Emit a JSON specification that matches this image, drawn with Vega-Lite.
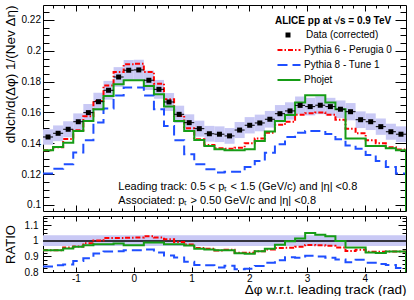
{
  "$schema": "https://vega.github.io/schema/vega-lite/v6.json",
  "padding": {"left": 2, "top": 4, "right": 9, "bottom": 0},
  "config": {
    "font": "Liberation Sans",
    "view": {"stroke": null},
    "axis": {"domainColor": "black", "tickColor": "black", "labelColor": "black", "titleColor": "black", "grid": false, "labelFont": "Liberation Sans", "titleFont": "Liberation Sans", "labelOverlap": false, "labelFlush": false, "labelBound": false, "minExtent": 0, "tickWidth": 1, "domainWidth": 1}
  },
  "data": {"values": [
    {"lo":-1.5708,"hi":-1.3963,"c":-1.4835,"d":0.1441,"b1":0.1391,"b2":0.1491,"p6":0.1355,"p8":0.1205,"pj":0.1355,"r6":0.940,"r8":0.836,"rj":0.940},
    {"lo":-1.3963,"hi":-1.2217,"c":-1.3090,"d":0.1465,"b1":0.1414,"b2":0.1516,"p6":0.1375,"p8":0.1235,"pj":0.1376,"r6":0.940,"r8":0.843,"rj":0.940},
    {"lo":-1.2217,"hi":-1.0472,"c":-1.1345,"d":0.1491,"b1":0.1439,"b2":0.1543,"p6":0.1428,"p8":0.1265,"pj":0.1404,"r6":0.958,"r8":0.848,"rj":0.951},
    {"lo":-1.0472,"hi":-0.8727,"c":-0.9599,"d":0.1540,"b1":0.1486,"b2":0.1594,"p6":0.1485,"p8":0.1340,"pj":0.1480,"r6":0.964,"r8":0.870,"rj":0.962},
    {"lo":-0.8727,"hi":-0.6981,"c":-0.7854,"d":0.1599,"b1":0.1543,"b2":0.1655,"p6":0.1575,"p8":0.1420,"pj":0.1545,"r6":0.985,"r8":0.888,"rj":0.972},
    {"lo":-0.6981,"hi":-0.5236,"c":-0.6109,"d":0.1670,"b1":0.1612,"b2":0.1728,"p6":0.1675,"p8":0.1535,"pj":0.1621,"r6":1.003,"r8":0.919,"rj":0.978},
    {"lo":-0.5236,"hi":-0.3491,"c":-0.4363,"d":0.1744,"b1":0.1683,"b2":0.1805,"p6":0.1775,"p8":0.1625,"pj":0.1707,"r6":1.018,"r8":0.932,"rj":0.978},
    {"lo":-0.3491,"hi":-0.1745,"c":-0.2618,"d":0.1830,"b1":0.1766,"b2":0.1894,"p6":0.1862,"p8":0.1710,"pj":0.1783,"r6":1.018,"r8":0.934,"rj":0.983},
    {"lo":-0.1745,"hi":0.0,"c":-0.0873,"d":0.1874,"b1":0.1808,"b2":0.1940,"p6":0.1912,"p8":0.1762,"pj":0.1809,"r6":1.020,"r8":0.940,"rj":0.972},
    {"lo":0.0,"hi":0.1745,"c":0.0873,"d":0.1876,"b1":0.1810,"b2":0.1942,"p6":0.1916,"p8":0.1762,"pj":0.1809,"r6":1.021,"r8":0.940,"rj":0.972},
    {"lo":0.1745,"hi":0.3491,"c":0.2618,"d":0.1809,"b1":0.1746,"b2":0.1872,"p6":0.1862,"p8":0.1710,"pj":0.1772,"r6":1.030,"r8":0.945,"rj":0.990},
    {"lo":0.3491,"hi":0.5236,"c":0.4363,"d":0.1750,"b1":0.1689,"b2":0.1811,"p6":0.1787,"p8":0.1621,"pj":0.1718,"r6":1.021,"r8":0.926,"rj":0.990},
    {"lo":0.5236,"hi":0.6981,"c":0.6109,"d":0.1668,"b1":0.1610,"b2":0.1726,"p6":0.1685,"p8":0.1512,"pj":0.1638,"r6":1.010,"r8":0.906,"rj":0.978},
    {"lo":0.6981,"hi":0.8727,"c":0.7854,"d":0.1588,"b1":0.1532,"b2":0.1644,"p6":0.1577,"p8":0.1420,"pj":0.1545,"r6":0.993,"r8":0.894,"rj":0.978},
    {"lo":0.8727,"hi":1.0472,"c":0.9599,"d":0.1534,"b1":0.1480,"b2":0.1588,"p6":0.1498,"p8":0.1329,"pj":0.1480,"r6":0.977,"r8":0.866,"rj":0.970},
    {"lo":1.0472,"hi":1.2217,"c":1.1345,"d":0.1495,"b1":0.1443,"b2":0.1547,"p6":0.1426,"p8":0.1264,"pj":0.1422,"r6":0.954,"r8":0.845,"rj":0.950},
    {"lo":1.2217,"hi":1.3963,"c":1.3090,"d":0.1462,"b1":0.1411,"b2":0.1513,"p6":0.1389,"p8":0.1232,"pj":0.1383,"r6":0.950,"r8":0.843,"rj":0.945},
    {"lo":1.3963,"hi":1.5708,"c":1.4835,"d":0.1459,"b1":0.1408,"b2":0.1510,"p6":0.1368,"p8":0.1210,"pj":0.1361,"r6":0.938,"r8":0.829,"rj":0.940},
    {"lo":1.5708,"hi":1.7453,"c":1.6581,"d":0.1448,"b1":0.1397,"b2":0.1499,"p6":0.1365,"p8":0.1216,"pj":0.1355,"r6":0.943,"r8":0.840,"rj":0.940},
    {"lo":1.7453,"hi":1.9199,"c":1.8326,"d":0.1486,"b1":0.1434,"b2":0.1538,"p6":0.1372,"p8":0.1216,"pj":0.1355,"r6":0.923,"r8":0.818,"rj":0.920},
    {"lo":1.9199,"hi":2.0944,"c":2.0071,"d":0.1517,"b1":0.1464,"b2":0.1570,"p6":0.1400,"p8":0.1246,"pj":0.1362,"r6":0.923,"r8":0.821,"rj":0.918},
    {"lo":2.0944,"hi":2.2689,"c":2.1817,"d":0.1532,"b1":0.1478,"b2":0.1586,"p6":0.1431,"p8":0.1285,"pj":0.1415,"r6":0.934,"r8":0.839,"rj":0.933},
    {"lo":2.2689,"hi":2.4435,"c":2.3562,"d":0.1556,"b1":0.1502,"b2":0.1610,"p6":0.1469,"p8":0.1339,"pj":0.1476,"r6":0.944,"r8":0.860,"rj":0.950},
    {"lo":2.4435,"hi":2.6180,"c":2.5307,"d":0.1592,"b1":0.1536,"b2":0.1648,"p6":0.1520,"p8":0.1394,"pj":0.1545,"r6":0.955,"r8":0.876,"rj":0.975},
    {"lo":2.6180,"hi":2.7925,"c":2.7053,"d":0.1610,"b1":0.1554,"b2":0.1666,"p6":0.1540,"p8":0.1441,"pj":0.1584,"r6":0.956,"r8":0.895,"rj":0.998},
    {"lo":2.7925,"hi":2.9671,"c":2.8798,"d":0.1646,"b1":0.1588,"b2":0.1704,"p6":0.1585,"p8":0.1469,"pj":0.1664,"r6":0.963,"r8":0.892,"rj":1.015},
    {"lo":2.9671,"hi":3.1416,"c":3.0543,"d":0.1638,"b1":0.1581,"b2":0.1695,"p6":0.1595,"p8":0.1480,"pj":0.1712,"r6":0.974,"r8":0.904,"rj":1.050},
    {"lo":3.1416,"hi":3.3161,"c":3.2289,"d":0.1647,"b1":0.1589,"b2":0.1705,"p6":0.1600,"p8":0.1480,"pj":0.1712,"r6":0.972,"r8":0.899,"rj":1.040},
    {"lo":3.3161,"hi":3.4907,"c":3.4034,"d":0.1638,"b1":0.1581,"b2":0.1695,"p6":0.1585,"p8":0.1460,"pj":0.1664,"r6":0.968,"r8":0.891,"rj":1.030},
    {"lo":3.4907,"hi":3.6652,"c":3.5779,"d":0.1621,"b1":0.1564,"b2":0.1678,"p6":0.1552,"p8":0.1426,"pj":0.1621,"r6":0.957,"r8":0.880,"rj":1.000},
    {"lo":3.6652,"hi":3.8397,"c":3.7525,"d":0.1605,"b1":0.1549,"b2":0.1661,"p6":0.1495,"p8":0.1385,"pj":0.1432,"r6":0.935,"r8":0.863,"rj":0.958},
    {"lo":3.8397,"hi":4.0143,"c":3.9270,"d":0.1553,"b1":0.1499,"b2":0.1607,"p6":0.1465,"p8":0.1365,"pj":0.1432,"r6":0.943,"r8":0.879,"rj":0.958},
    {"lo":4.0143,"hi":4.1888,"c":4.1015,"d":0.1540,"b1":0.1486,"b2":0.1594,"p6":0.1420,"p8":0.1324,"pj":0.1383,"r6":0.930,"r8":0.860,"rj":0.925},
    {"lo":4.1888,"hi":4.3633,"c":4.2761,"d":0.1508,"b1":0.1455,"b2":0.1561,"p6":0.1400,"p8":0.1285,"pj":0.1383,"r6":0.930,"r8":0.852,"rj":0.922},
    {"lo":4.3633,"hi":4.5379,"c":4.4506,"d":0.1475,"b1":0.1423,"b2":0.1527,"p6":0.1375,"p8":0.1246,"pj":0.1368,"r6":0.932,"r8":0.845,"rj":0.932},
    {"lo":4.5379,"hi":4.7124,"c":4.6251,"d":0.1459,"b1":0.1408,"b2":0.1510,"p6":0.1360,"p8":0.1205,"pj":0.1355,"r6":0.932,"r8":0.826,"rj":0.932},
    {"lo":4.7124,"p6":0,"p8":0,"pj":0,"r6":0,"r8":0,"rj":0}
  ]},
  "spacing": 0,
  "resolve": {"scale": {"color": "independent", "strokeDash": "independent", "shape": "independent"}},
  "vconcat": [
    {
      "width": 363,
      "height": 206,
      "layer": [
        {
          "transform": [{"filter": "isValid(datum.d)"}],
          "mark": {"type": "rect", "fill": "#c9c9f5"},
          "encoding": {
            "x": {"field": "lo", "type": "quantitative", "scale": {"domain": [-1.5708, 4.7124], "nice": false, "zero": false},
                  "axis": {"orient": "bottom", "values": [-1.4,-1.2,-1,-0.8,-0.6,-0.4,-0.2,0,0.2,0.4,0.6,0.8,1,1.2,1.4,1.6,1.8,2,2.2,2.4,2.6,2.8,3,3.2,3.4,3.6,3.8,4,4.2,4.4,4.6], "labels": false, "title": null,
                           "tickSize": {"expr": "abs(datum.value-round(datum.value))<0.001 ? -6 : -3"}}},
            "x2": {"field": "hi"},
            "y": {"field": "b1", "type": "quantitative", "scale": {"domain": [0.0961, 0.2297], "nice": false, "zero": false},
                  "axis": {"orient": "left", "values": [0.1,0.105,0.11,0.115,0.12,0.125,0.13,0.135,0.14,0.145,0.15,0.155,0.16,0.165,0.17,0.175,0.18,0.185,0.19,0.195,0.2,0.205,0.21,0.215,0.22,0.225],
                           "tickSize": {"expr": "abs(datum.value*50-round(datum.value*50))<0.001 ? -11 : -6"},
                           "labelExpr": "abs(datum.value*50-round(datum.value*50))<0.001 ? format(datum.value,'.2~f') : ''",
                           "labelPadding": 13.5, "labelFontSize": 10,
                           "title": "dNch/d(Δφ) 1/(Nev Δη)", "titleFontSize": 13.5, "titleFontWeight": "normal", "titleAnchor": "end", "titleX": -33, "titleBaseline": "middle"}},
            "y2": {"field": "b2"}
          }
        },
        {
          "mark": {"type": "line", "interpolate": "step-after", "strokeWidth": 2, "clip": true},
          "encoding": {
            "x": {"field": "lo", "type": "quantitative", "scale": {"domain": [-1.5708, 4.7124], "nice": false, "zero": false}, "axis": null},
            "y": {"field": "p6", "type": "quantitative", "scale": {"domain": [0.0961, 0.2297], "nice": false, "zero": false}, "axis": null},
            "color": {"datum": "Pythia 6 -  Perugia 0", "type": "nominal",
                      "scale": {"domain": ["Pythia 6 -  Perugia 0", "Pythia 8 -  Tune 1", "Phojet"], "range": ["#ff0000", "#1f4fff", "#169c16"]},
                      "legend": {"orient": "none", "legendX": 233, "legendY": 39, "title": null, "labelFontSize": 10, "labelColor": "black", "symbolSize": 100, "symbolStrokeWidth": 2, "symbolType": "M-2.3,0H2.3", "rowPadding": 4, "symbolOffset": 7, "labelOffset": 9, "padding": 0}},
            "strokeDash": {"datum": "Pythia 6 -  Perugia 0", "type": "nominal",
                      "scale": {"domain": ["Pythia 6 -  Perugia 0", "Pythia 8 -  Tune 1", "Phojet"], "range": [[5,2,1.5,2], [10,5], [1,0]]},
                      "legend": {"orient": "none", "legendX": 233, "legendY": 39, "title": null, "labelFontSize": 10, "labelColor": "black", "symbolSize": 100, "symbolStrokeWidth": 2, "symbolType": "M-2.3,0H2.3", "rowPadding": 4, "symbolOffset": 7, "labelOffset": 9, "padding": 0}}
          }
        },
        {
          "mark": {"type": "line", "interpolate": "step-after", "strokeWidth": 2, "clip": true},
          "encoding": {
            "x": {"field": "lo", "type": "quantitative", "scale": {"domain": [-1.5708, 4.7124], "nice": false, "zero": false}, "axis": null},
            "y": {"field": "p8", "type": "quantitative", "scale": {"domain": [0.0961, 0.2297], "nice": false, "zero": false}, "axis": null},
            "color": {"datum": "Pythia 8 -  Tune 1", "type": "nominal"},
            "strokeDash": {"datum": "Pythia 8 -  Tune 1", "type": "nominal"}
          }
        },
        {
          "mark": {"type": "line", "interpolate": "step-after", "strokeWidth": 2, "clip": true},
          "encoding": {
            "x": {"field": "lo", "type": "quantitative", "scale": {"domain": [-1.5708, 4.7124], "nice": false, "zero": false}, "axis": null},
            "y": {"field": "pj", "type": "quantitative", "scale": {"domain": [0.0961, 0.2297], "nice": false, "zero": false}, "axis": null},
            "color": {"datum": "Phojet", "type": "nominal"},
            "strokeDash": {"datum": "Phojet", "type": "nominal"}
          }
        },
        {
          "transform": [{"filter": "isValid(datum.d)"}],
          "mark": {"type": "rule", "color": "black", "strokeWidth": 1},
          "encoding": {
            "x": {"field": "lo", "type": "quantitative", "scale": {"domain": [-1.5708, 4.7124], "nice": false, "zero": false},
                  "axis": {"orient": "top", "values": [-1.4,-1.2,-1,-0.8,-0.6,-0.4,-0.2,0,0.2,0.4,0.6,0.8,1,1.2,1.4,1.6,1.8,2,2.2,2.4,2.6,2.8,3,3.2,3.4,3.6,3.8,4,4.2,4.4,4.6], "labels": false, "title": null,
                           "tickSize": {"expr": "abs(datum.value-round(datum.value))<0.001 ? -6 : -3"}}},
            "x2": {"field": "hi"},
            "y": {"field": "d", "type": "quantitative", "scale": {"domain": [0.0961, 0.2297], "nice": false, "zero": false},
                  "axis": {"orient": "right", "values": [0.1,0.105,0.11,0.115,0.12,0.125,0.13,0.135,0.14,0.145,0.15,0.155,0.16,0.165,0.17,0.175,0.18,0.185,0.19,0.195,0.2,0.205,0.21,0.215,0.22,0.225], "labels": false, "title": null,
                           "tickSize": {"expr": "abs(datum.value*50-round(datum.value*50))<0.001 ? -11 : -6"}}}
          }
        },
        {
          "transform": [{"filter": "isValid(datum.d)"}],
          "mark": {"type": "point", "filled": true, "color": "black", "size": 25, "opacity": 1},
          "encoding": {
            "x": {"field": "c", "type": "quantitative", "scale": {"domain": [-1.5708, 4.7124], "nice": false, "zero": false}, "axis": null},
            "y": {"field": "d", "type": "quantitative", "scale": {"domain": [0.0961, 0.2297], "nice": false, "zero": false}, "axis": null},
            "shape": {"datum": "Data (corrected)", "type": "nominal", "scale": {"range": ["square"]},
                      "legend": {"orient": "none", "legendX": 232, "legendY": 11, "title": "ALICE pp at √s = 0.9 TeV", "titleFontSize": 10, "titleFontWeight": "bold", "titleColor": "black", "titlePadding": 4, "labelFontSize": 10, "labelColor": "black", "symbolSize": 25, "symbolOffset": 8, "labelOffset": 13, "padding": 0, "symbolFillColor": "black", "symbolStrokeColor": "black"}}
          }
        },
        {
          "data": {"values": [{}]},
          "mark": {"type": "text", "align": "left", "baseline": "middle", "fontSize": 11, "color": "black", "text": "Leading track: 0.5 < pₜ < 1.5 (GeV/c) and |η| <0.8"},
          "encoding": {
            "x": {"datum": -0.267, "type": "quantitative", "scale": {"domain": [-1.5708, 4.7124], "nice": false, "zero": false}, "axis": null},
            "y": {"datum": 0.1114, "type": "quantitative", "scale": {"domain": [0.0961, 0.2297], "nice": false, "zero": false}, "axis": null}
          }
        },
        {
          "data": {"values": [{}]},
          "mark": {"type": "text", "align": "left", "baseline": "middle", "fontSize": 11, "color": "black", "text": "Associated: pₜ > 0.50 GeV/c and |η| <0.8"},
          "encoding": {
            "x": {"datum": -0.267, "type": "quantitative", "scale": {"domain": [-1.5708, 4.7124], "nice": false, "zero": false}, "axis": null},
            "y": {"datum": 0.1029, "type": "quantitative", "scale": {"domain": [0.0961, 0.2297], "nice": false, "zero": false}, "axis": null}
          }
        }
      ],
      "resolve": {"axis": {"x": "independent", "y": "independent"}}
    },
    {
      "width": 363,
      "height": 56,
      "layer": [
        {
          "data": {"values": [{}]},
          "mark": {"type": "rect", "fill": "#c9c9f5"},
          "encoding": {
            "x": {"datum": -1.5708, "type": "quantitative", "scale": {"domain": [-1.5708, 4.7124], "nice": false, "zero": false},
                  "axis": {"orient": "top", "values": [-1.4,-1.2,-1,-0.8,-0.6,-0.4,-0.2,0,0.2,0.4,0.6,0.8,1,1.2,1.4,1.6,1.8,2,2.2,2.4,2.6,2.8,3,3.2,3.4,3.6,3.8,4,4.2,4.4,4.6], "labels": false, "title": null,
                           "tickSize": {"expr": "abs(datum.value-round(datum.value))<0.001 ? -5 : -2.5"}}},
            "x2": {"datum": 4.7124},
            "y": {"datum": 0.967, "type": "quantitative", "scale": {"domain": [0.8, 1.16], "nice": false, "zero": false},
                  "axis": {"orient": "right", "values": [0.8,0.825,0.85,0.875,0.9,0.925,0.95,0.975,1,1.025,1.05,1.075,1.1,1.125,1.15], "labels": false, "title": null,
                           "tickSize": {"expr": "abs(datum.value*10-round(datum.value*10))<0.001 ? -8 : -4"}}},
            "y2": {"datum": 1.037}
          }
        },
        {
          "data": {"values": [{}]},
          "mark": {"type": "rule", "color": "black", "strokeWidth": 1.5},
          "encoding": {
            "y": {"datum": 1, "type": "quantitative", "scale": {"domain": [0.8, 1.16], "nice": false, "zero": false}, "axis": null}
          }
        },
        {
          "mark": {"type": "line", "interpolate": "step-after", "strokeWidth": 2, "clip": true, "color": "#ff0000", "strokeDash": [5,2,1.5,2]},
          "encoding": {
            "x": {"field": "lo", "type": "quantitative", "scale": {"domain": [-1.5708, 4.7124], "nice": false, "zero": false}, "axis": null},
            "y": {"field": "r6", "type": "quantitative", "scale": {"domain": [0.8, 1.16], "nice": false, "zero": false}, "axis": null}
          }
        },
        {
          "mark": {"type": "line", "interpolate": "step-after", "strokeWidth": 2, "clip": true, "color": "#1f4fff", "strokeDash": [10,5]},
          "encoding": {
            "x": {"field": "lo", "type": "quantitative", "scale": {"domain": [-1.5708, 4.7124], "nice": false, "zero": false}, "axis": null},
            "y": {"field": "r8", "type": "quantitative", "scale": {"domain": [0.8, 1.16], "nice": false, "zero": false}, "axis": null}
          }
        },
        {
          "mark": {"type": "line", "interpolate": "step-after", "strokeWidth": 2, "clip": true, "color": "#169c16"},
          "encoding": {
            "x": {"field": "lo", "type": "quantitative", "scale": {"domain": [-1.5708, 4.7124], "nice": false, "zero": false},
                  "axis": {"orient": "bottom", "values": [-1.4,-1.2,-1,-0.8,-0.6,-0.4,-0.2,0,0.2,0.4,0.6,0.8,1,1.2,1.4,1.6,1.8,2,2.2,2.4,2.6,2.8,3,3.2,3.4,3.6,3.8,4,4.2,4.4,4.6],
                           "tickSize": {"expr": "abs(datum.value-round(datum.value))<0.001 ? -5 : -2.5"},
                           "labelExpr": "abs(datum.value-round(datum.value))<0.001 ? ''+round(datum.value) : ''",
                           "labelPadding": 6, "labelFontSize": 10,
                           "title": "Δφ w.r.t. leading track (rad)", "titleFontSize": 13.5, "titleFontWeight": "normal", "titleAnchor": "end", "titlePadding": -3}},
            "y": {"field": "rj", "type": "quantitative", "scale": {"domain": [0.8, 1.16], "nice": false, "zero": false},
                  "axis": {"orient": "left", "values": [0.8,0.825,0.85,0.875,0.9,0.925,0.95,0.975,1,1.025,1.05,1.075,1.1,1.125,1.15],
                           "tickSize": {"expr": "abs(datum.value*10-round(datum.value*10))<0.001 ? -8 : -4"},
                           "labelExpr": "abs(datum.value*10-round(datum.value*10))<0.001 ? format(datum.value,'.1~f') : ''",
                           "labelPadding": 13, "labelFontSize": 10,
                           "title": "RATIO", "titleFontSize": 13, "titleFontWeight": "normal", "titleAnchor": "middle", "titleX": -33, "titleBaseline": "middle"}}
          }
        }
      ],
      "resolve": {"axis": {"x": "independent", "y": "independent"}}
    }
  ]
}
